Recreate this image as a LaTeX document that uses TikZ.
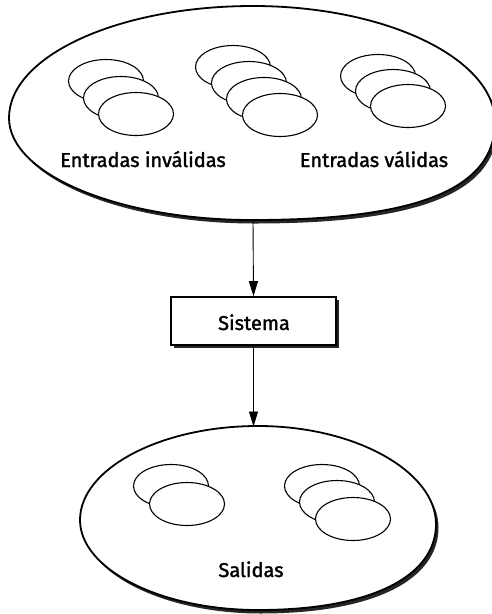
\documentclass[tikz,border=0pt]{standalone}
\usepackage{fontspec}
\setmainfont{Fira Sans}
\newfontfamily\lblfont{Fira Sans}[FakeBold=1.6]
\usetikzlibrary{shapes.geometric,shadows,arrows.meta}
\tikzset{
  bigline/.style={draw=black, line width=1.8pt, fill=white},
  bigshadow/.style={fill=black, opacity=0.85},
  disc/.style={ellipse, draw=black, line width=1.1pt, fill=white, inner sep=0pt,
    minimum width=75pt, minimum height=43pt},
  sysbox/.style={rectangle, draw=black, line width=1.6pt, fill=white,
    minimum width=165pt, minimum height=48pt, inner sep=0pt,
    drop shadow={shadow xshift=2.5pt, shadow yshift=-2.5pt, fill=black, opacity=0.85}},
  lbl/.style={font=\lblfont\fontsize{20pt}{23pt}\selectfont, anchor=base, inner sep=0pt},
  flow/.style={line width=0.9pt, -{Triangle[length=15pt,width=9pt]}}
}
\begin{document}
\begin{tikzpicture}[x=1pt,y=-1pt]
\useasboundingbox (0,0) rectangle (492,614);
% top set outline: L=(9,118) T=(253,6) R=(495,122) B=(252,220)
\def\topset{(9,118) .. controls (9,56) and (118,6) .. (253,6)
  .. controls (387,6) and (495,59) .. (495,122)
  .. controls (495,190) and (415,220) .. (252,220)
  .. controls (118,220) and (9,174) .. cycle}
\fill[bigshadow, shift={(2.5,3.5)}] \topset;
\path[bigline] \topset;
\coordinate (inbot) at (253,220);
% group 1
\node[disc] (a1) at (106,81) {};
\node[disc] (a2) at (121,98) {};
\node[disc] (a3) at (136,114) {};
% group 2
\node[disc] (b1) at (233,67) {};
\node[disc] (b2) at (249,83) {};
\node[disc] (b3) at (264,99) {};
\node[disc] (b4) at (280,115) {};
% group 3
\node[disc] (c1) at (378,76) {};
\node[disc] (c2) at (393,91) {};
\node[disc] (c3) at (408,106) {};
\node[lbl] (linv) at (143,167) {Entradas inválidas};
\node[lbl] (lval) at (374,167) {Entradas válidas};
% system
\node[sysbox] (sys) at (253.5,321) {};
\node[lbl] (lsys) at (254,330) {Sistema};
% bottom set outline: L=(80,520) T=(258,426) R=(436,524) B=(258,610)
\def\botset{(80,520) .. controls (80,469) and (160,426) .. (258,426)
  .. controls (356,426) and (436,472) .. (436,524)
  .. controls (436,577) and (370,610) .. (258,610)
  .. controls (160,610) and (80,569) .. cycle}
\fill[bigshadow, shift={(2.5,3.5)}] \botset;
\path[bigline] \botset;
\coordinate (outtop) at (253.5,426.5);
\node[disc] (d1) at (171,486) {};
\node[disc] (d2) at (187,504) {};
\node[disc] (e1) at (322,486) {};
\node[disc] (e2) at (337,502) {};
\node[disc] (e3) at (353,519) {};
\node[lbl] (lsal) at (251,577) {Salidas};
% connectors
\draw[flow] (inbot) -- (sys.north);
\draw[flow] (sys.south) -- (outtop);
\end{tikzpicture}
\end{document}
